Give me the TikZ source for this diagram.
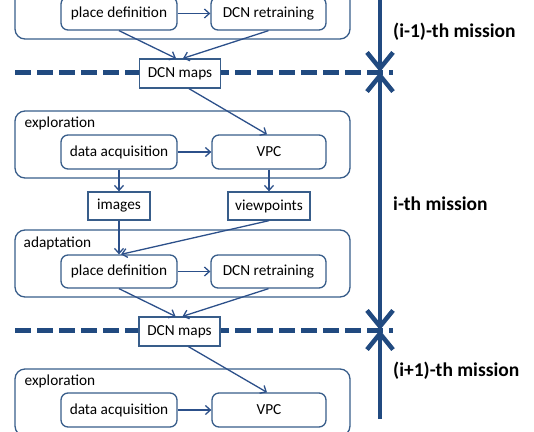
\documentclass[tikz,border=0pt]{standalone}
\usepackage{fontspec}
\setmainfont{Carlito}
\usetikzlibrary{arrows.meta,calc}
\definecolor{boxc}{RGB}{56,93,138}
\definecolor{arrc}{RGB}{44,80,138}
\definecolor{misc}{RGB}{33,74,128}
\begin{document}
\begin{tikzpicture}[x=1pt,y=-1pt,
  font=\fontsize{15.3}{18}\selectfont,
  cont/.style={draw=boxc, line width=1.3pt, rounded corners=10pt, minimum width=335pt, minimum height=67pt, inner sep=0pt},
  inbox/.style={draw=boxc, line width=1.3pt, rounded corners=7pt, fill=white, minimum height=33pt, inner sep=0pt},
  sqbox/.style={draw=boxc, line width=1.3pt, fill=white, minimum height=28pt, inner sep=0pt},
  conn/.style={draw=arrc, line width=1.3pt, -{Straight Barb[length=5pt,width=9pt,line width=1.3pt]}},
  lbl/.style={anchor=base west, inner sep=0pt},
  mlbl/.style={anchor=west, inner sep=0pt, font=\fontsize{19.5}{23}\selectfont\bfseries},
  sep/.style={draw=misc, line width=5pt, dash pattern=on 16pt off 6pt},
  mis/.style={draw=misc, line width=4.5pt},
  mtip/.style={-{Straight Barb[length=16pt,width=26pt,line width=4.5pt]}}
]
\useasboundingbox (0,0) rectangle (534,431);
\clip (0,0) rectangle (534,431);

% separators (dashed)
\coordinate (s0a) at (15,72);  \coordinate (s0b) at (393,72);
\coordinate (s1a) at (15,330); \coordinate (s1b) at (393,330);
\draw[sep] (s0a) -- (s0b);
\draw[sep] (s1a) -- (s1b);

% top (i-1) adaptation
\node[cont, minimum height=67pt] (ad0) at (182.5,5.5) {};
\node[inbox, minimum width=116pt] (pd0) at (119,13.5) {place definition};
\node[inbox, minimum width=115pt] (dr0) at (268.5,13.5) {DCN retraining};
\node[sqbox, minimum width=81pt, minimum height=29pt] (maps0) at (180,73.5) {DCN maps};

% i-th exploration
\node[cont] (ex1) at (182.5,144.5) {};
\node[lbl] (ex1l) at (24.5,127.7) {exploration};
\node[inbox, minimum width=116pt, minimum height=34pt] (da1) at (119,152) {data acquisition};
\node[inbox, minimum width=114pt, minimum height=34pt] (vpc1) at (269,152) {VPC};
\node[sqbox, minimum width=62pt] (img1) at (119,206) {images};
\node[sqbox, minimum width=82pt] (vp1) at (269,206) {viewpoints};

% i-th adaptation
\node[cont] (ad1) at (182.5,263.5) {};
\node[lbl] (ad1l) at (23.5,247.3) {adaptation};
\node[inbox, minimum width=116pt] (pd1) at (119,271.5) {place definition};
\node[inbox, minimum width=115pt] (dr1) at (268.5,271.5) {DCN retraining};
\node[sqbox, minimum width=81pt, minimum height=29pt] (maps1) at (179.5,331.5) {DCN maps};

% (i+1) exploration
\node[cont] (ex2) at (182.5,402.5) {};
\node[lbl] (ex2l) at (24.5,385.5) {exploration};
\node[inbox, minimum width=116pt, minimum height=34pt] (da2) at (119,410) {data acquisition};
\node[inbox, minimum width=114pt, minimum height=34pt] (vpc2) at (269,410) {VPC};

% connectors
\draw[conn] (pd0.east) -- (dr0.west);
\draw[conn] (pd0.south) -- ($(maps0.north)+(-4,0)$);
\draw[conn] (dr0.south) -- ($(maps0.north)+(3,0)$);
\draw[conn] ($(maps0.south)+(9,0)$) -- ($(vpc1.north)+(-2,0)$);
\draw[conn] (da1.east) -- (vpc1.west);
\draw[conn] (da1.south) -- (img1.north);
\draw[conn] (vpc1.south) -- (vp1.north);
\draw[conn] (img1.south) -- (pd1.north);
\draw[conn] (vp1.south) -- ($(pd1.north)+(2,0)$);
\draw[conn] (pd1.east) -- (dr1.west);
\draw[conn] (pd1.south) -- ($(maps1.north)+(-4,0)$);
\draw[conn] (dr1.south) -- ($(maps1.north)+(3,0)$);
\draw[conn] ($(maps1.south)+(9,0)$) -- ($(vpc2.north)+(-2,0)$);
\draw[conn] (da2.east) -- (vpc2.west);

% mission timeline
\coordinate (vt) at (380,-2);
\coordinate (j0) at (380,72);
\coordinate (j1) at (380,330);
\coordinate (vb) at (380,419);
\draw[mis, mtip] (vt) -- (j0);
\draw[mis, mtip] (j1) -- (j0);
\draw[mis, mtip] (j0) -- (j1);
\draw[mis, mtip] (vb) -- (j1);

\node[mlbl] (m0) at (393,32) {(i-1)-th mission};
\node[mlbl] (m1) at (393,204) {i-th mission};
\node[mlbl] (m2) at (393,371) {(i+1)-th mission};
\end{tikzpicture}
\end{document}
